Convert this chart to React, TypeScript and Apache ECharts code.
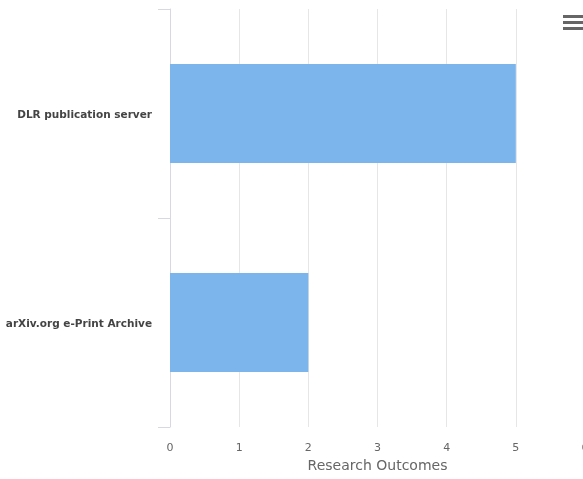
import React, { useEffect, useRef } from "react";
import * as echarts from "echarts";

const categories = ["DLR publication server", "arXiv.org e-Print Archive"];
const values = [5, 2];
const axisTitle = "Research Outcomes";

export default function App() {
  const ref = useRef<HTMLDivElement>(null);
  useEffect(() => {
    if (!ref.current) return;
    const chart = echarts.init(ref.current, null, { renderer: "svg" });
    chart.setOption({
      animation: false,
      grid: { left: 170, right: -2, top: 9, bottom: 52, containLabel: false, outerBoundsMode: "none" },
      xAxis: {
        type: "value",
        min: 0,
        max: 6,
        interval: 1,
        name: axisTitle,
        nameLocation: "middle",
        nameGap: 30,
        nameTextStyle: { color: "#666", fontSize: 14, fontFamily: "DejaVu Sans" },
        axisLine: { show: false },
        axisTick: { show: false },
        axisLabel: { color: "#666", fontSize: 11, margin: 15, fontFamily: "DejaVu Sans", showMaxLabel: true },
        splitLine: { show: true, lineStyle: { color: "#e6e6e6", width: 1 } },
      },
      yAxis: {
        type: "category",
        data: categories,
        inverse: true,
        axisLine: { show: true, lineStyle: { color: "#d8d8e0", width: 1 } },
        axisTick: { show: true, length: 12, lineStyle: { color: "#d8d8e0" } },
        axisLabel: { color: "#444", fontSize: 10.5, fontWeight: "bold", margin: 18, fontFamily: "DejaVu Sans" },
        splitLine: { show: false },
      },
      series: [
        {
          type: "bar",
          data: values,
          barWidth: 99,
          itemStyle: { color: "#7cb5ec" },
        },
      ],
      graphic: [
        { type: "rect", z: 100, shape: { x: 563, y: 15, width: 22, height: 3 }, style: { fill: "#666" } },
        { type: "rect", z: 100, shape: { x: 563, y: 21, width: 22, height: 3 }, style: { fill: "#666" } },
        { type: "rect", z: 100, shape: { x: 563, y: 27, width: 22, height: 3 }, style: { fill: "#666" } },
      ],
    });
    return () => chart.dispose();
  }, []);
  return <div ref={ref} style={{ width: 583, height: 479, position: "fixed", left: 0, top: 0 }} />;
}
